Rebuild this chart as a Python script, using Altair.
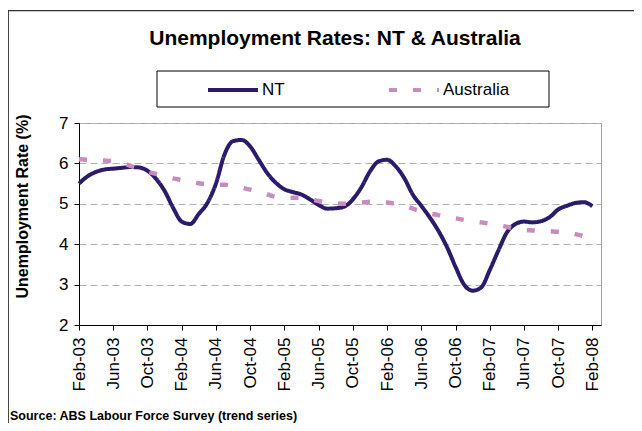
import altair as alt
import pandas as pd

# ---- data ----
tick_labels = ["Feb-03", "Jun-03", "Oct-03", "Feb-04", "Jun-04", "Oct-04",
               "Feb-05", "Jun-05", "Oct-05", "Feb-06", "Jun-06", "Oct-06",
               "Feb-07", "Jun-07", "Oct-07", "Feb-08"]

# monthly values Feb-03 .. Feb-08 (61 months)
nt_rate = [5.50, 5.68, 5.79, 5.85, 5.87, 5.89, 5.91, 5.90, 5.82, 5.62,
           5.32, 4.90, 4.56, 4.50, 4.75, 5.02, 5.50, 6.22, 6.55, 6.58,
           6.42, 6.09, 5.76, 5.52, 5.36, 5.29, 5.23, 5.11, 4.97, 4.88,
           4.89, 4.93, 5.11, 5.41, 5.80, 6.05, 6.09, 5.93, 5.64, 5.23,
           4.95, 4.66, 4.33, 3.93, 3.44, 3.00, 2.85, 2.93, 3.36, 3.84,
           4.29, 4.50, 4.56, 4.54, 4.57, 4.67, 4.86, 4.95, 5.02, 5.04,
           4.94]
aus_rate = [6.10, 6.09, 6.08, 6.07, 6.05, 6.00, 5.94, 5.87, 5.80, 5.74,
            5.68, 5.63, 5.59, 5.55, 5.51, 5.48, 5.47, 5.47, 5.44, 5.40,
            5.35, 5.29, 5.23, 5.17, 5.15, 5.15, 5.15, 5.11, 5.07, 5.03,
            5.01, 5.00, 5.01, 5.03, 5.05, 5.05, 5.03, 5.00, 4.95, 4.88,
            4.81, 4.76, 4.72, 4.67, 4.64, 4.60, 4.57, 4.54, 4.51, 4.48,
            4.43, 4.38, 4.35, 4.34, 4.33, 4.32, 4.31, 4.29, 4.25, 4.20,
            4.15]
series_names = ["NT", "Australia"]
series_colors = ["#2B1B6A", "#C88DBC"]

chart_title = "Unemployment Rates: NT & Australia"
y_title = "Unemployment Rate (%)"
source_text = "Source: ABS Labour Force Survey (trend series)"

months = list(range(len(nt_rate)))
df = pd.DataFrame({
    "month": months + months,
    "rate": nt_rate + aus_rate,
    "series": ["NT"] * len(nt_rate) + ["Australia"] * len(aus_rate),
})
one = pd.DataFrame({"k": [0]})

FONT = "Liberation Sans"
W, H = 522, 202

label_js = "[" + ",".join("'%s'" % t for t in tick_labels) + "][round(datum.value / 4)]"

x_enc = alt.X(
    "month:Q",
    scale=alt.Scale(domain=[0, 61], nice=False, zero=False),
    axis=alt.Axis(values=list(range(0, 61, 4)), labelExpr=label_js, labelAngle=270,
                  labelFontSize=17, labelFont=FONT, labelColor="black", labelPadding=7,
                  tickSize=5, tickColor="black", domainColor="black", grid=False,
                  title=None),
)
y_enc = alt.Y(
    "rate:Q",
    scale=alt.Scale(domain=[2, 7], nice=False, zero=False),
    axis=alt.Axis(values=[2, 3, 4, 5, 6, 7], title=y_title, titleFont=FONT,
                  titleFontSize=16, titleFontWeight="bold", titleColor="black",
                  titleX=-49, titleY=83,
                  labelFontSize=17, labelFont=FONT, labelColor="black", labelPadding=6,
                  tickSize=5, tickColor="black", domainColor="black",
                  grid=True, gridDash=[7, 4], gridColor="#b0b0b0", gridWidth=1),
)

leg = alt.Legend(title=None, orient="none", legendX=127, legendY=-60,
                 direction="horizontal", symbolType="stroke", symbolSize=2500,
                 symbolStrokeWidth=4, labelFontSize=17, labelFont=FONT,
                 labelColor="black", labelOffset=2, columnPadding=96, padding=0)

color = alt.Color("series:N", scale=alt.Scale(domain=series_names, range=series_colors), legend=leg)
dash = alt.StrokeDash("series:N", scale=alt.Scale(domain=series_names, range=[[1, 0], [8, 16]]), legend=leg)

base = alt.Chart(df).encode(x=x_enc, y=y_enc, color=color, strokeDash=dash)
nt_line = base.transform_filter(alt.datum.series == "NT").mark_line(strokeWidth=4, interpolate="monotone")
au_line = base.transform_filter(alt.datum.series == "Australia").mark_line(strokeWidth=4.5, interpolate="monotone")

border = alt.Chart(one).mark_rect(fill="white", fillOpacity=0, stroke="#333333", strokeWidth=1.2).encode(
    x=alt.value(-70.7), x2=alt.value(560), y=alt.value(-112.3), y2=alt.value(305))
legend_box = alt.Chart(one).mark_rect(fill="white", fillOpacity=0, stroke="black", strokeWidth=1).encode(
    x=alt.value(78), x2=alt.value(470), y=alt.value(-52), y2=alt.value(-16))
title_mark = alt.Chart(one).mark_text(text=chart_title, font=FONT, fontSize=21, fontWeight="bold",
                                      align="center", baseline="alphabetic", color="black").encode(
    x=alt.value(256), y=alt.value(-78))
source_mark = alt.Chart(one).mark_text(text=source_text, font=FONT, fontSize=12.5, fontWeight="bold",
                                       align="left", baseline="alphabetic", color="black").encode(
    x=alt.value(-69), y=alt.value(297.2))

chart = alt.layer(border, legend_box, nt_line, au_line, title_mark, source_mark).properties(
    width=W, height=H,
    padding={"left": 71, "top": 115, "right": 33, "bottom": 98},
    autosize=alt.AutoSizeParams(type="none"),
    background="white",
).configure_view(stroke="#a0a0a0", strokeWidth=1)

chart.save("out.html", embed_options={"renderer": "svg", "actions": False})
